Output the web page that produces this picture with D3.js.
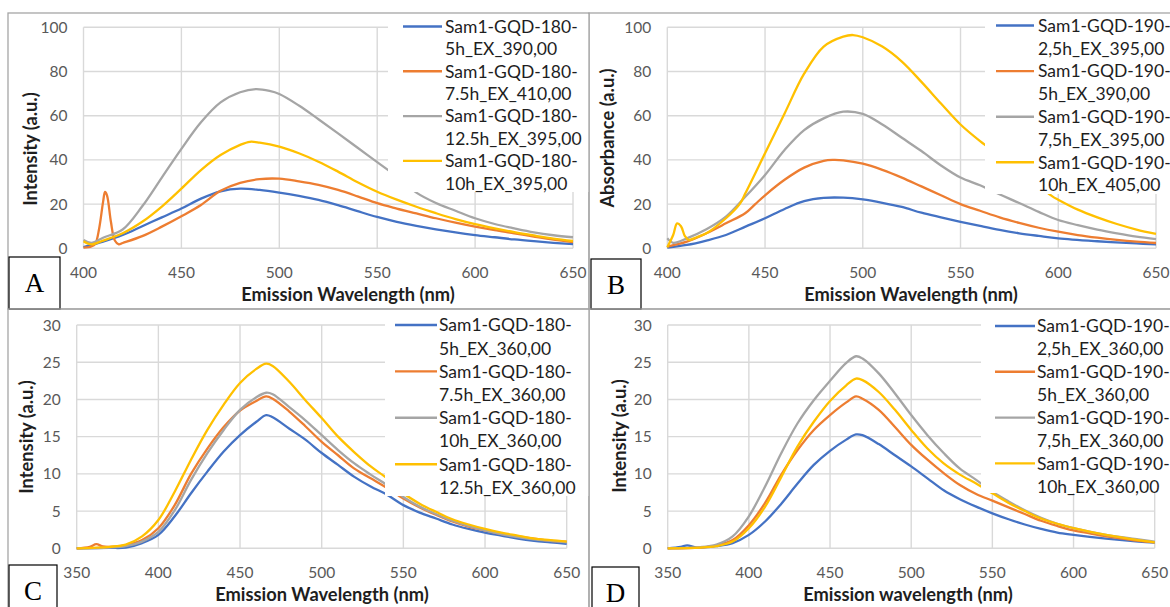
<!DOCTYPE html>
<html><head><meta charset="utf-8">
<script src="https://cdn.jsdelivr.net/npm/d3@7"></script>
<style>body{margin:0;background:#fff}svg{display:block}</style>
</head><body><svg id="c" width="1170" height="607"></svg>
<script>
// ---------- tick labels ----------
const xTicksAB = [400,450,500,550,600,650];
const yTicksAB = [0,20,40,60,80,100];
const xTicksCD = [350,400,450,500,550,600,650];
const yTicksCD = [0,5,10,15,20,25,30];

// ---------- panel A ----------
const A_names = [["Sam1-GQD-180-","5h_EX_390,00"],["Sam1-GQD-180-","7.5h_EX_410,00"],["Sam1-GQD-180-","12.5h_EX_395,00"],["Sam1-GQD-180-","10h_EX_395,00"]];
const A_5h = [[400,0.5],[410,3],[420,6],[430,10],[440,14],[450,18],[460,22.5],[470,25.8],[480,27],[490,26.4],[500,25.2],[510,23.7],[520,21.9],[530,19.5],[540,16.8],[550,14.2],[560,12],[570,10.2],[580,8.6],[590,7.2],[600,6],[610,5],[620,4],[630,3.2],[640,2.5],[650,1.9]];
const A_7_5h = [[400,0.3],[404,0.8],[406,2],[408,9],[410,21],[411,25.5],[412,24],[414,12],[416,3.5],[418,1.8],[420,2.4],[430,5.5],[440,9.8],[450,14.5],[460,19.6],[470,26],[480,29.6],[490,31.3],[500,31.5],[510,30.3],[520,28.7],[530,26.4],[540,23.5],[550,20.4],[560,18],[570,15.8],[580,13.6],[590,11.6],[600,9.8],[610,8.2],[620,6.8],[630,5.3],[640,3.9],[650,2.8]];
const A_12_5h = [[400,3.8],[404,2.5],[410,4.8],[420,8.5],[430,19],[440,32],[450,45],[460,57],[470,66],[480,70.6],[488,72],[495,71.2],[500,69.8],[510,64.6],[520,58.4],[530,52],[540,45.5],[550,39],[560,32.5],[570,25.2],[580,20.5],[590,17],[600,13.6],[610,11],[620,9],[630,7.2],[640,5.9],[650,5]];
const A_10h = [[400,3.2],[404,1.8],[410,3.5],[420,6.8],[430,12],[440,18.9],[450,27],[460,35.4],[470,42.2],[480,46.8],[485,48.2],[490,47.8],[500,46],[510,43],[520,39.2],[530,34.7],[540,29.9],[550,25.6],[560,22],[570,18.8],[580,15.9],[590,13.2],[600,10.9],[610,9],[620,7.3],[630,5.8],[640,4.4],[650,3.3]];

// ---------- panel B ----------
const B_names = [["Sam1-GQD-190-","2,5h_EX_395,00"],["Sam1-GQD-190-","5h_EX_390,00"],["Sam1-GQD-190-","7,5h_EX_395,00"],["Sam1-GQD-190-","10h_EX_405,00"]];
const B_2_5h = [[400,0.3],[410,1.5],[420,3.5],[430,6],[440,9.8],[450,13.6],[460,17.8],[470,21.3],[480,22.8],[490,22.9],[500,22.1],[510,20.6],[520,18.7],[530,16.1],[540,14],[550,12],[560,10.1],[570,8.3],[580,6.8],[590,5.6],[600,4.5],[620,3.2],[640,2.2],[650,1.8]];
const B_5h = [[400,0.8],[410,3],[420,6.8],[430,11.3],[440,16],[445,20],[450,24],[460,31],[470,36.5],[480,39.6],[485,40],[490,39.8],[500,38.3],[510,35.5],[520,32],[530,28],[540,24],[550,20],[560,17],[570,14],[580,11.5],[590,9.3],[600,7.5],[610,6],[620,4.8],[630,3.8],[640,3],[650,2.4]];
const B_7_5h = [[400,4.5],[403,2.5],[410,4.5],[420,8.6],[430,14.3],[440,23.4],[450,33.2],[460,44.5],[470,53.5],[480,58.8],[490,61.8],[500,60.8],[510,56],[520,50],[530,44],[540,37.5],[550,32],[560,28.5],[567,25.6],[580,20.5],[590,16.5],[600,12.8],[610,10.5],[620,8.5],[630,6.8],[640,5.3],[650,4.2]];
const B_10h = [[400,0.5],[403,6],[405,11.3],[407,10],[409,5.5],[411,3.8],[415,5],[420,6.8],[430,13.6],[437,20],[440,25],[450,43],[460,61],[470,79],[480,91.3],[490,95.8],[495,96.5],[500,95.5],[510,91.3],[520,84.5],[530,75.3],[540,65.5],[550,56],[560,48.5],[570,42],[580,35.5],[590,28.5],[597,23.5],[600,22],[610,17.5],[620,14],[630,11],[640,8.5],[650,6.5]];

// ---------- panel C ----------
const C_names = [["Sam1-GQD-180-","5h_EX_360,00"],["Sam1-GQD-180-","7.5h_EX_360,00"],["Sam1-GQD-180-","10h_EX_360,00"],["Sam1-GQD-180-","12.5h_EX_360,00"]];
const C_5h = [[350,0],[370,0.05],[380,0.1],[390,0.7],[400,1.8],[410,4.3],[420,7.4],[430,10.3],[440,13],[450,15.2],[460,17],[466,17.9],[470,17.6],[480,16.1],[490,14.6],[500,12.8],[510,11.2],[520,9.6],[530,8.3],[540,7.2],[550,5.8],[560,4.8],[570,4],[580,3.2],[590,2.6],[600,2.1],[610,1.7],[620,1.3],[630,1],[640,0.8],[650,0.6]];
const C_7_5h = [[350,0],[358,0.2],[362,0.55],[366,0.25],[370,0.2],[380,0.4],[390,1.1],[400,2.7],[410,5.8],[420,10],[430,13.4],[440,16.3],[450,18.5],[460,19.8],[466,20.4],[470,20.1],[480,18.4],[490,16.4],[500,14.3],[510,12.5],[520,10.7],[530,9.4],[540,8.1],[550,6.7],[560,5.5],[570,4.5],[580,3.6],[590,2.9],[600,2.4],[610,1.9],[620,1.6],[630,1.3],[640,1],[650,0.9]];
const C_10h = [[350,0],[370,0.1],[380,0.3],[390,0.9],[400,2.2],[410,5.1],[420,9.2],[430,12.8],[440,15.9],[450,18.6],[460,20.3],[466,20.9],[470,20.7],[480,19],[490,17.2],[500,15.2],[510,13.2],[520,11.4],[530,9.9],[540,8.5],[550,6.9],[560,5.6],[570,4.6],[580,3.7],[590,3],[600,2.4],[610,1.9],[620,1.5],[630,1.2],[640,1],[650,0.8]];
const C_12_5h = [[350,0],[370,0.2],[380,0.5],[390,1.6],[400,3.8],[410,7.6],[420,11.9],[430,15.9],[440,19.3],[450,22.2],[460,24.1],[466,24.8],[470,24.5],[480,22.4],[490,19.9],[500,17.5],[510,15],[520,12.9],[530,11],[540,9.4],[550,7.4],[560,6],[570,4.9],[580,3.9],[590,3.2],[600,2.6],[610,2.1],[620,1.7],[630,1.3],[640,1.1],[650,0.9]];

// ---------- panel D ----------
const D_names = [["Sam1-GQD-190-","2,5h_EX_360,00"],["Sam1-GQD-190-","5h_EX_360,00"],["Sam1-GQD-190-","7,5h_EX_360,00"],["Sam1-GQD-190-","10h_EX_360,00"]];
const D_2_5h = [[350,0],[358,0.2],[362,0.4],[368,0.1],[380,0.3],[390,0.7],[400,1.8],[410,3.6],[420,6],[430,8.7],[440,11.2],[450,13.1],[460,14.6],[466,15.3],[470,15.2],[480,14],[490,12.5],[500,11],[510,9.4],[520,7.8],[530,6.6],[540,5.6],[550,4.7],[560,3.9],[570,3.2],[580,2.6],[590,2.1],[600,1.8],[620,1.3],[640,0.9],[650,0.75]];
const D_5h = [[350,0],[370,0.1],[380,0.4],[390,1.1],[400,3.1],[410,6.1],[420,9.9],[430,13.2],[440,15.9],[450,17.9],[460,19.6],[466,20.4],[470,20.1],[480,18.6],[490,16.3],[500,13.9],[510,11.9],[520,10.1],[530,8.5],[540,7.3],[550,6.4],[560,5.5],[570,4.6],[580,3.7],[590,3],[600,2.4],[610,2],[620,1.6],[630,1.3],[640,1],[650,0.8]];
const D_7_5h = [[350,0],[370,0.15],[380,0.5],[390,1.6],[400,4.3],[410,8.3],[420,12.8],[430,16.8],[440,19.9],[450,22.5],[460,24.9],[466,25.8],[470,25.5],[480,23.5],[490,20.8],[500,17.9],[510,15.2],[520,12.8],[530,10.7],[540,9.2],[550,7.6],[560,6.3],[570,5.1],[580,4.1],[590,3.3],[600,2.7],[620,1.8],[640,1.2],[650,0.9]];
const D_10h = [[350,0],[370,0.1],[380,0.3],[390,0.9],[400,2.7],[410,5.6],[420,9.6],[430,13.7],[440,17],[450,19.8],[460,21.9],[466,22.8],[470,22.6],[480,21],[490,18.6],[500,15.9],[510,13.4],[520,11.4],[530,9.9],[540,8.7],[550,7.4],[560,6.1],[570,5],[580,4],[590,3.3],[600,2.7],[620,1.8],[640,1.1],[650,0.8]];

const colors = ["#4472C4","#ED7D31","#A5A5A5","#FFC000"];

// ---------- drawing ----------
const svg = d3.select("#c");
svg.append("rect").attr("width",1170).attr("height",607).attr("fill","#fff");

const panels = [
 {border:[8,13,589,309], x:[83.5,573], y:[248.3,27.3], xd:[400,650], yd:[0,100], xt:xTicksAB, yt:yTicksAB,
  series:[A_5h,A_7_5h,A_12_5h,A_10h], names:A_names,
  leg:{box:[388,14,589,192], lx:403, lx2:442, tx:445, ty0:26.5, dy:22.4},
  xtitle:["Emission Wavelength (nm)",348,294], ytitle:["Intensity (a.u.)",30,149],
  label:["A",9,257,51,52]},
 {border:[589,13,1175,309], x:[667.3,1156], y:[248.3,27.3], xd:[400,650], yd:[0,100], xt:xTicksAB, yt:yTicksAB,
  series:[B_2_5h,B_5h,B_7_5h,B_10h], names:B_names,
  leg:{box:[985,14,1175,194], lx:996, lx2:1034, tx:1038, ty0:25.5, dy:22.8},
  xtitle:["Emission Wavelength (nm)",911,294], ytitle:["Absorbance (a.u.)",607,138],
  label:["B",591,259,50,50]},
 {border:[8,309,589,612], x:[76.7,566.7], y:[548.3,325], xd:[350,650], yd:[0,30], xt:xTicksCD, yt:yTicksCD,
  series:[C_5h,C_7_5h,C_10h,C_12_5h], names:C_names,
  leg:{box:[385,310,589,496], lx:395, lx2:437, tx:439, ty0:325, dy:23.2},
  xtitle:["Emission Wavelength (nm)",322,594], ytitle:["Intensity (a.u.)",26,437],
  label:["C",9,565,48,50]},
 {border:[589,309,1175,612], x:[667.7,1154.7], y:[548.3,325], xd:[350,650], yd:[0,30], xt:xTicksCD, yt:yTicksCD,
  series:[D_2_5h,D_5h,D_7_5h,D_10h], names:D_names,
  leg:{box:[981,310,1175,493], lx:995, lx2:1035, tx:1037, ty0:326, dy:22.9},
  xtitle:["Emission wavelength (nm)",908,594], ytitle:["Intensity (a.u.)",619,436],
  label:["D",592,567,47,50]}
];

panels.forEach(p => {
  const g = svg.append("g");
  const xs = d3.scaleLinear().domain(p.xd).range(p.x);
  const ys = d3.scaleLinear().domain(p.yd).range(p.y);

  g.append("rect").attr("x",p.border[0]).attr("y",p.border[1])
    .attr("width",p.border[2]-p.border[0]).attr("height",p.border[3]-p.border[1])
    .attr("fill","none").attr("stroke","#a6a6a6").attr("stroke-width",1.3);

  g.append("g").selectAll("line").data(p.yt).join("line")
    .attr("x1",p.x[0]).attr("x2",p.x[1]).attr("y1",d=>ys(d)).attr("y2",d=>ys(d))
    .attr("stroke","#d9d9d9").attr("stroke-width",1.4);
  g.append("g").selectAll("line").data(p.xt).join("line")
    .attr("x1",d=>xs(d)).attr("x2",d=>xs(d)).attr("y1",p.y[0]).attr("y2",p.y[1])
    .attr("stroke","#d9d9d9").attr("stroke-width",1.4);

  g.append("g").selectAll("text").data(p.yt).join("text")
    .attr("x",p.x[0]-16).attr("y",d=>ys(d)).attr("dy","0.36em")
    .attr("text-anchor","end").attr("font-family","Lato, sans-serif").attr("font-size",15.5)
    .attr("fill","#595959").text(d=>d);
  g.append("g").selectAll("text").data(p.xt).join("text")
    .attr("x",d=>xs(d)).attr("y",p.y[0]+24).attr("dy","0.36em")
    .attr("text-anchor","middle").attr("font-family","Lato, sans-serif").attr("font-size",15.5)
    .attr("fill","#595959").text(d=>d);

  const line = d3.line().x(d=>xs(d[0])).y(d=>ys(d[1])).curve(d3.curveCatmullRom.alpha(0.5));
  p.series.forEach((s,i)=>{
    g.append("path").datum(s).attr("d",line).attr("fill","none")
      .attr("stroke",colors[i]).attr("stroke-width",2.3).attr("stroke-linejoin","round");
  });

  const L = p.leg;
  g.append("rect").attr("x",L.box[0]).attr("y",L.box[1]).attr("width",L.box[2]-L.box[0]).attr("height",L.box[3]-L.box[1]).attr("fill","#fff");
  p.names.forEach((nm,i)=>{
    const y0 = L.ty0 + i*2*L.dy;
    g.append("line").attr("x1",L.lx).attr("x2",L.lx2).attr("y1",y0).attr("y2",y0)
      .attr("stroke",colors[i]).attr("stroke-width",2.4);
    nm.forEach((t,j)=>{
      g.append("text").attr("x",L.tx).attr("y",y0+j*L.dy).attr("dy","0.36em")
        .attr("font-family","Lato, sans-serif").attr("font-size",17.5).attr("fill","#1e1e1e").text(t);
    });
  });

  g.append("text").attr("x",p.xtitle[1]).attr("y",p.xtitle[2]).attr("dy","0.36em")
    .attr("text-anchor","middle").attr("font-family","Lato, sans-serif").attr("font-weight","bold")
    .attr("font-size",18.3).attr("fill","#1e1e1e").text(p.xtitle[0]);
  g.append("text").attr("transform",`translate(${p.ytitle[1]},${p.ytitle[2]}) rotate(-90)`).attr("dy","0.36em")
    .attr("text-anchor","middle").attr("font-family","Lato, sans-serif").attr("font-weight","bold")
    .attr("font-size",18.3).attr("fill","#1e1e1e").text(p.ytitle[0]);

  const lb = p.label;
  g.append("rect").attr("x",lb[1]).attr("y",lb[2]).attr("width",lb[3]).attr("height",lb[4])
    .attr("fill","#fff").attr("stroke","#000").attr("stroke-width",1.2);
  g.append("text").attr("x",lb[1]+lb[3]/2).attr("y",lb[2]+26).attr("dy","0.35em")
    .attr("text-anchor","middle").attr("font-family","Liberation Serif, Times New Roman, serif")
    .attr("font-size",27).attr("fill","#000").text(lb[0]);
});
</script></body></html>
